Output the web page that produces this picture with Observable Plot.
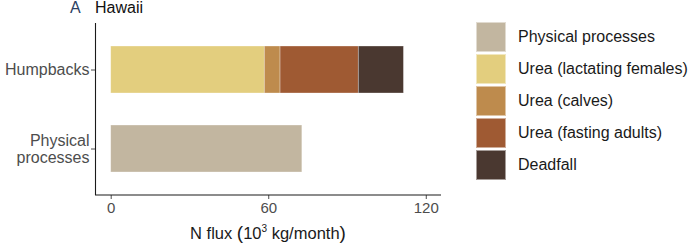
<!DOCTYPE html>
<html><head><meta charset="utf-8">
<script src="https://cdn.jsdelivr.net/npm/d3@7"></script>
<script src="https://cdn.jsdelivr.net/npm/@observablehq/plot@0.6"></script>
<style>
body{margin:0;background:#fff;font-family:"Liberation Sans",Arial,sans-serif;}
#wrap{position:relative;width:693px;height:248px;overflow:hidden;background:#fff}
#wrap svg{position:absolute;left:0;top:0}
.title{position:absolute;top:-1px;font-size:16px;line-height:18px;white-space:nowrap}
#legend{position:absolute;left:476px;top:22px}
.row{display:flex;align-items:center;height:30px;margin-bottom:2px}
.sw{width:30px;height:30px;box-sizing:border-box;border:1px solid rgba(255,255,255,0.5)}
.lab{margin-left:12px;font-size:16px;color:#1a1a1a;white-space:nowrap}
#xlab{position:absolute;top:220px;left:168px;width:200px;text-align:center;font-size:16.5px;line-height:18px;color:#1a1a1a;white-space:nowrap}
</style></head><body><div id="wrap"></div>
<script>
const categories = ["Humpbacks", "Physical processes"];
const sources = ["Physical processes", "Urea (lactating females)", "Urea (calves)", "Urea (fasting adults)", "Deadfall"];
const colors = ["#C2B6A0", "#E3CE7E", "#BE8B4D", "#9F5A33", "#4A3830"];
const humpbackSources = ["Urea (lactating females)", "Urea (calves)", "Urea (fasting adults)", "Deadfall"];
const humpbackValues = [58.5, 6.0, 29.8, 17.2];
const physicalSources = ["Physical processes"];
const physicalValues = [72.8];
const xTicks = [0, 60, 120];
const xDomain = [-5.98, 125.8];

const rows = [
  ...humpbackSources.map((s, i) => ({category: "Humpbacks", source: s, value: humpbackValues[i]})),
  ...physicalSources.map((s, i) => ({category: "Physical processes", source: s, value: physicalValues[i]}))
];

const wrap = document.getElementById("wrap");
const chart = Plot.plot({
  width: 693, height: 248,
  marginLeft: 95, marginRight: 252, marginTop: 23, marginBottom: 53,
  style: {fontFamily: '"Liberation Sans", Arial, sans-serif', fontSize: "16px", background: "transparent", overflow: "visible"},
  x: {domain: xDomain, label: null},
  y: {domain: categories, range: [46, 173], paddingInner: 0.4, paddingOuter: 0, label: null},
  color: {domain: sources, range: colors},
  marks: [
    Plot.barX(rows, Plot.stackX({x: "value", y: "category", fill: "source", stroke: "#ffffff", strokeOpacity: 0.45, strokeWidth: 0.7})),
    Plot.ruleX([xDomain[0]], {stroke: "#1a1a1a", strokeWidth: 1.1}),
    Plot.axisX({ticks: xTicks, tickSize: 4, tickPadding: 3, fontSize: 15, color: "#4D4D4D", label: null}),
    Plot.axisY({tickSize: 4, tickPadding: 2, fontSize: 16, color: "#4D4D4D", label: null, lineHeight: 1.07,
      tickFormat: d => d === "Physical processes" ? "Physical\nprocesses" : d})
  ]
});
wrap.appendChild(chart);

d3.select(chart).selectAll('g[aria-label="x-axis tick label"]').attr("font-size", 15);
d3.select(chart).selectAll('g[aria-label="y-axis tick label"]').attr("font-size", 16);

// bottom axis line across the frame
const xs = chart.scale("x");
d3.select(chart).append("line")
  .attr("x1", xs.apply(xDomain[0])).attr("x2", xs.apply(xDomain[1]))
  .attr("y1", 248 - 53).attr("y2", 248 - 53)
  .attr("stroke", "#1a1a1a").attr("stroke-width", 1.1);

// title
const tA = document.createElement("div");
tA.className = "title"; tA.style.left = "70px"; tA.style.color = "#2B3F62"; tA.textContent = "A";
wrap.appendChild(tA);
const tH = document.createElement("div");
tH.className = "title"; tH.style.left = "95px"; tH.style.color = "#111"; tH.textContent = "Hawaii";
wrap.appendChild(tH);

// x label
const xl = document.createElement("div");
xl.id = "xlab";
xl.innerHTML = 'N flux <span style="font-size:19px">(</span>10<sup style="font-size:10px;vertical-align:7px">3</sup> kg/month<span style="font-size:19px">)</span>';
wrap.appendChild(xl);

// legend
const leg = document.createElement("div");
leg.id = "legend";
sources.forEach((s, i) => {
  const r = document.createElement("div"); r.className = "row";
  const sw = document.createElement("div"); sw.className = "sw"; sw.style.background = colors[i];
  const lb = document.createElement("div"); lb.className = "lab"; lb.textContent = s;
  r.appendChild(sw); r.appendChild(lb); leg.appendChild(r);
});
wrap.appendChild(leg);
</script></body></html>
